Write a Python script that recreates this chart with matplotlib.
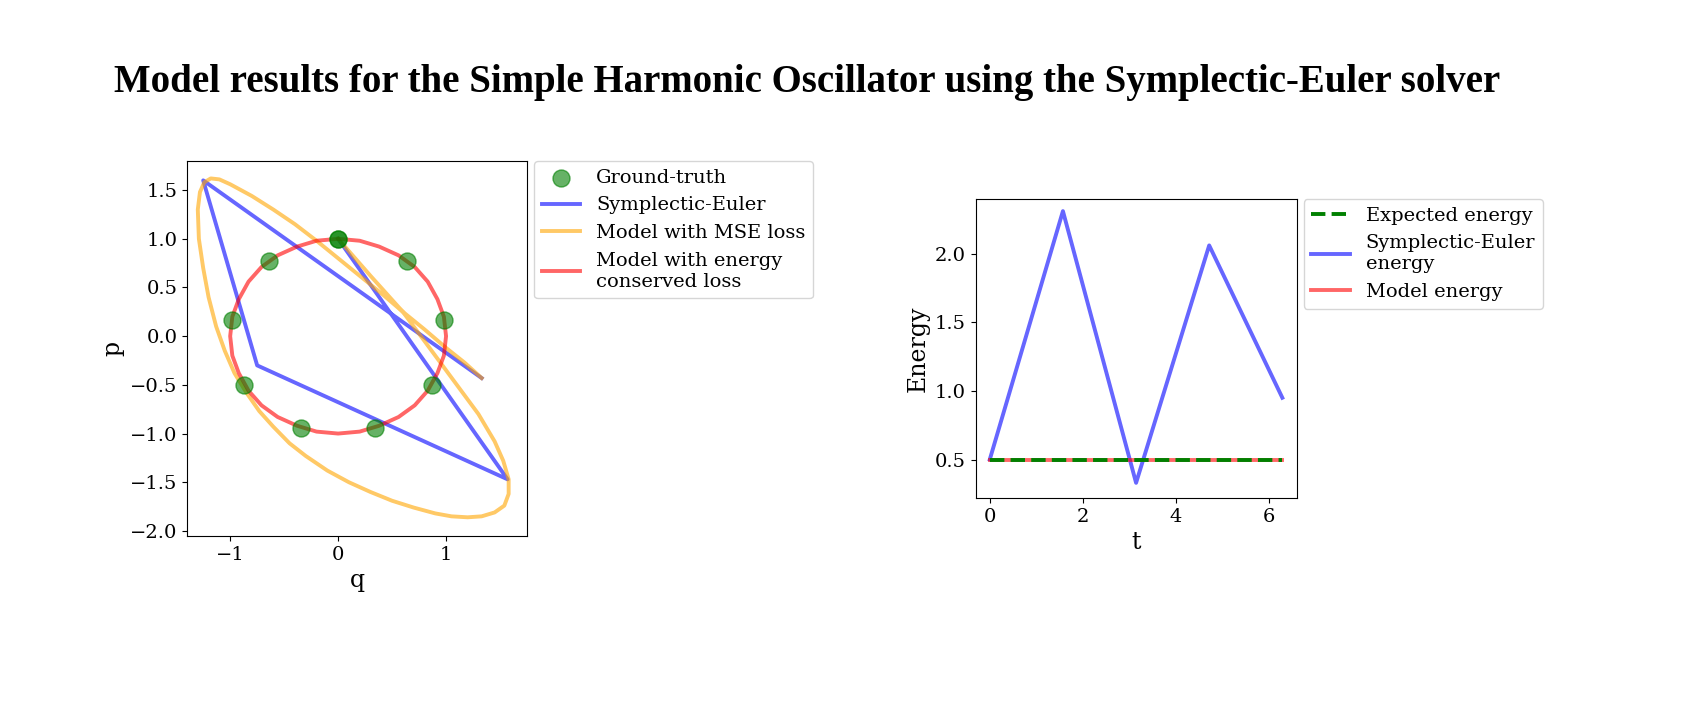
import matplotlib
matplotlib.use("Agg")
import matplotlib.pyplot as plt

gt_q = [0.0, 0.64, 0.98, 0.87, 0.34, -0.34, -0.87, -0.98, -0.64, 0.0]
gt_p = [1.0, 0.77, 0.17, -0.5, -0.94, -0.94, -0.5, 0.17, 0.77, 1.0]

se_q = [0.0, 1.57, -0.75, -1.25, 1.33]
se_p = [1.0, -1.47, -0.30, 1.60, -0.43]

mse_q = [0.0, 0.3, 0.6, 0.9, 1.1, 1.3, 1.45, 1.53, 1.58, 1.58, 1.54, 1.45, 1.33, 1.2, 1.05, 0.9, 0.7, 0.5,
         0.3, 0.1, -0.1, -0.3, -0.45, -0.6, -0.73, -0.85, -0.96, -1.05, -1.13, -1.2, -1.25, -1.29, -1.3,
         -1.28, -1.24, -1.18, -1.1, -1.0, -0.8, -0.6, -0.4, -0.2, 0.0, 0.2, 0.4, 0.6, 0.8, 1.0, 1.17, 1.33]
mse_p = [1.0, 0.62, 0.25, -0.2, -0.5, -0.8, -1.08, -1.28, -1.47, -1.62, -1.74, -1.81, -1.85, -1.86, -1.85,
         -1.82, -1.76, -1.69, -1.6, -1.5, -1.38, -1.23, -1.1, -0.93, -0.77, -0.58, -0.38, -0.15, 0.1,
         0.4, 0.7, 1.0, 1.3, 1.48, 1.58, 1.62, 1.61, 1.56, 1.44, 1.3, 1.15, 0.98, 0.8, 0.62, 0.44, 0.25,
         0.07, -0.12, -0.27, -0.43]

en_q = [0.0, 0.2, 0.38, 0.56, 0.71, 0.83, 0.92, 0.98, 1.0, 0.98, 0.92, 0.83, 0.71, 0.56, 0.38, 0.2,
        0.0, -0.2, -0.38, -0.56, -0.71, -0.83, -0.92, -0.98, -1.0, -0.98, -0.92, -0.83, -0.71, -0.56, -0.38, -0.2, 0.0]
en_p = [1.0, 0.98, 0.92, 0.83, 0.71, 0.56, 0.38, 0.2, 0.0, -0.2, -0.38, -0.56, -0.71, -0.83, -0.92, -0.98,
        -1.0, -0.98, -0.92, -0.83, -0.71, -0.56, -0.38, -0.2, 0.0, 0.2, 0.38, 0.56, 0.71, 0.83, 0.92, 0.98, 1.0]

t = [0.0, 1.571, 3.142, 4.712, 6.283]
expected_energy = [0.5, 0.5, 0.5, 0.5, 0.5]
se_energy = [0.5, 2.31, 0.33, 2.06, 0.95]
model_energy = [0.5, 0.5, 0.5, 0.5, 0.5]

plt.rcParams['font.family'] = ['DejaVu Serif']
plt.rcParams['font.size'] = 14

fig = plt.figure(figsize=(17, 7.28), dpi=100)
fig.text(0.475, 0.887, "Model results for the Simple Harmonic Oscillator using the Symplectic-Euler solver",
         ha='center', va='center', fontsize=28, fontweight='bold', family='Liberation Serif')

ax1 = fig.add_axes([0.110, 0.264, 0.200, 0.515])
ax1.scatter(gt_q, gt_p, s=150, color='green', alpha=0.6, label='Ground-truth', zorder=3)
ax1.plot(se_q, se_p, color='blue', alpha=0.6, lw=2.8, label='Symplectic-Euler')
ax1.plot(mse_q, mse_p, color='orange', alpha=0.6, lw=2.8, label='Model with MSE loss')
ax1.plot(en_q, en_p, color='red', alpha=0.6, lw=2.8, label='Model with energy\nconserved loss')
ax1.set_xlim(-1.4, 1.75)
ax1.set_ylim(-2.05, 1.8)
ax1.set_xticks([-1, 0, 1])
ax1.set_yticks([-2.0, -1.5, -1.0, -0.5, 0.0, 0.5, 1.0, 1.5])
ax1.set_xlabel('q', fontsize=17)
ax1.set_ylabel('p', fontsize=17)
ax1.legend(loc='upper left', bbox_to_anchor=(1.02, 1.0), fontsize=14, handlelength=2, borderaxespad=0)

ax2 = fig.add_axes([0.574, 0.316, 0.189, 0.411])
ax2.plot(t, expected_energy, '--', color='green', lw=2.8, label='Expected energy', zorder=3)
ax2.plot(t, se_energy, color='blue', alpha=0.6, lw=2.8, label='Symplectic-Euler\nenergy')
ax2.plot(t, model_energy, color='red', alpha=0.6, lw=2.8, label='Model energy')
ax2.set_xlim(-0.3, 6.6)
ax2.set_ylim(0.22, 2.4)
ax2.set_xticks([0, 2, 4, 6])
ax2.set_yticks([0.5, 1.0, 1.5, 2.0])
ax2.set_xlabel('t', fontsize=17)
ax2.set_ylabel('Energy', fontsize=17)
ax2.legend(loc='upper left', bbox_to_anchor=(1.02, 1.0), fontsize=14, handlelength=2, borderaxespad=0)

fig.savefig('out.png', dpi=100)
